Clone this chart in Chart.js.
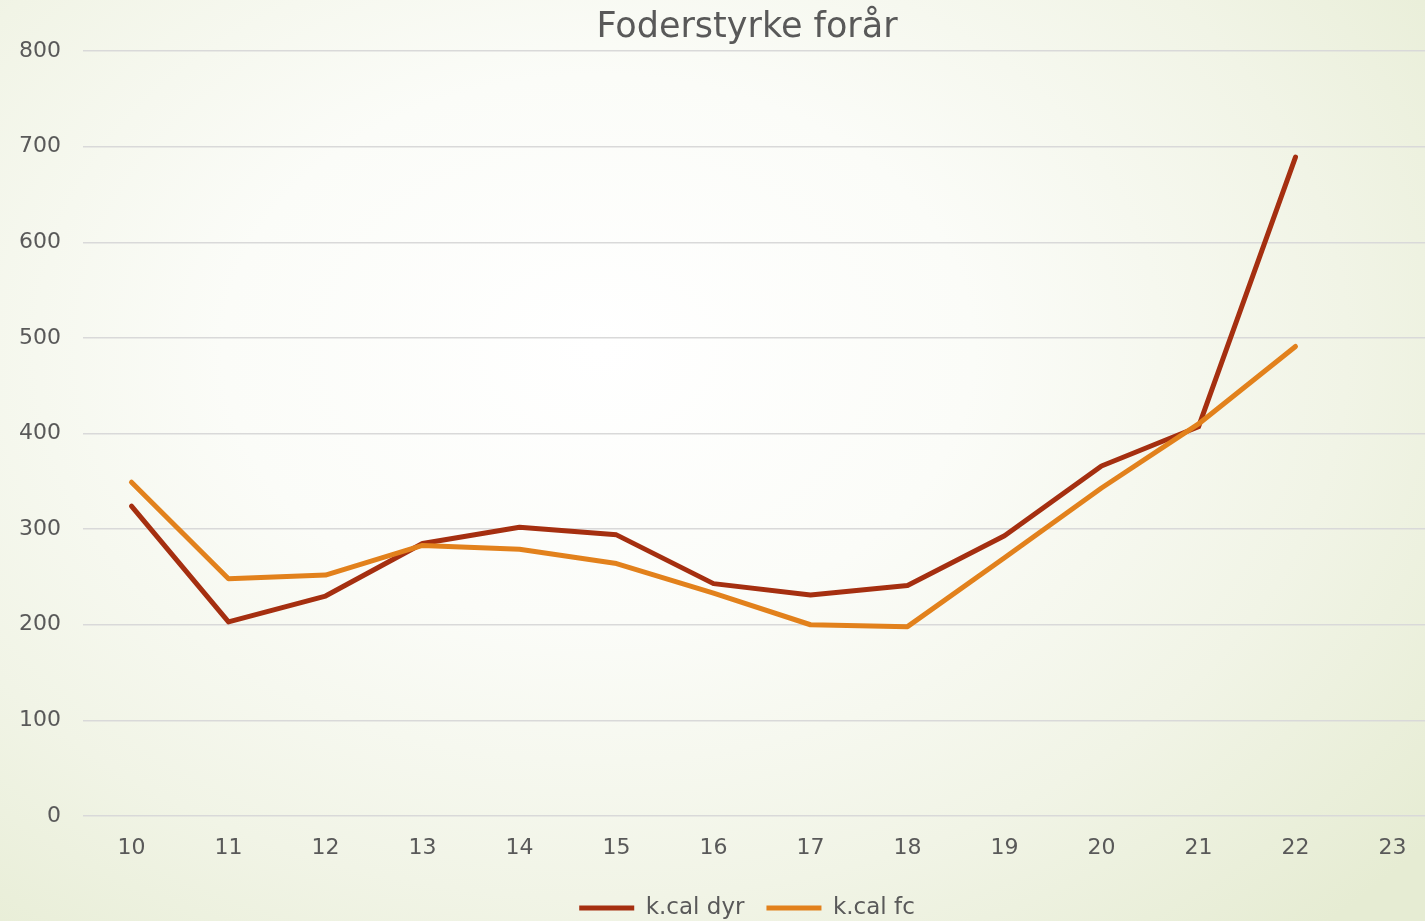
<!DOCTYPE html>
<html>
<head>
<meta charset="utf-8">
<script src="https://cdn.jsdelivr.net/npm/chart.js@4/dist/chart.umd.min.js"></script>
<style>
html,body{margin:0;padding:0;width:1425px;height:921px;overflow:hidden;}
body{background:radial-gradient(ellipse 75% 85% at 42% 38%, #ffffff 0%, #fbfcf8 35%, #f1f4e6 70%, #e6ecd3 100%);}
#wrap{position:absolute;left:0;top:0;width:1494px;height:921px;}
</style>
</head>
<body>
<div id="wrap"><canvas id="c" width="1494" height="921"></canvas></div>
<script>
const categories = ['10','11','12','13','14','15','16','17','18','19','20','21','22','23'];
const kcalDyr = [324, 203, 230, 285, 302, 294, 243, 231, 241, 293, 366, 407, 689, null];
const kcalFc  = [349, 248, 252, 283, 279, 264, 233, 200, 198, 270, 343, 410, 491, null];
const yTicks = [0, 100, 200, 300, 400, 500, 600, 700, 800];
const seriesNames = ['k.cal dyr', 'k.cal fc'];
const titleText = 'Foderstyrke forår';

const FONT = "'DejaVu Sans', sans-serif";
const GREY = '#595959';

new Chart(document.getElementById('c'), {
  type: 'line',
  data: {
    labels: categories,
    datasets: [
      {label: seriesNames[0], data: kcalDyr, borderColor: '#a52f10', backgroundColor: '#a52f10',
       borderWidth: 5, pointRadius: 0, borderCapStyle: 'round', borderJoinStyle: 'round', order: 1, tension: 0},
      {label: seriesNames[1], data: kcalFc, borderColor: '#e2811c', backgroundColor: '#e2811c',
       borderWidth: 5, pointRadius: 0, borderCapStyle: 'round', borderJoinStyle: 'round', order: 0, tension: 0}
    ]
  },
  options: {
    responsive: false,
    animation: false,
    layout: {padding: {left: 0, right: 0, top: 0, bottom: -8.5}},
    plugins: {
      title: {display: true, text: titleText, color: GREY,
        font: {family: FONT, size: 35, weight: 'normal'}, padding: {top: 7, bottom: 2}},
      legend: {position: 'bottom',
        labels: {usePointStyle: true, pointStyle: 'line', pointStyleWidth: 55, boxHeight: 5,
          color: GREY, font: {family: FONT, size: 23}, padding: 22,
          sort: (a, b) => a.datasetIndex - b.datasetIndex}},
      tooltip: {enabled: false}
    },
    scales: {
      x: {
        offset: true,
        grid: {display: false, drawTicks: false},
        border: {display: false},
        ticks: {color: GREY, font: {family: FONT, size: 22}, padding: 19, maxRotation: 0, autoSkip: false},
        afterFit: s => { s.height = 58.5; }
      },
      y: {
        min: 0, max: 800,
        afterBuildTicks: s => { s.ticks = yTicks.map(v => ({value: v})); },
        grid: {color: '#d9d9d9', lineWidth: 1.5, drawTicks: false},
        border: {display: false},
        ticks: {color: GREY, font: {family: FONT, size: 22}, padding: 22},
        afterFit: s => { s.width = 83; }
      },
      yRight: {
        position: 'right', display: true,
        grid: {display: false, drawTicks: false},
        border: {display: false},
        ticks: {display: false},
        afterFit: s => { s.width = 53; }
      }
    }
  }
});
</script>
</body>
</html>
